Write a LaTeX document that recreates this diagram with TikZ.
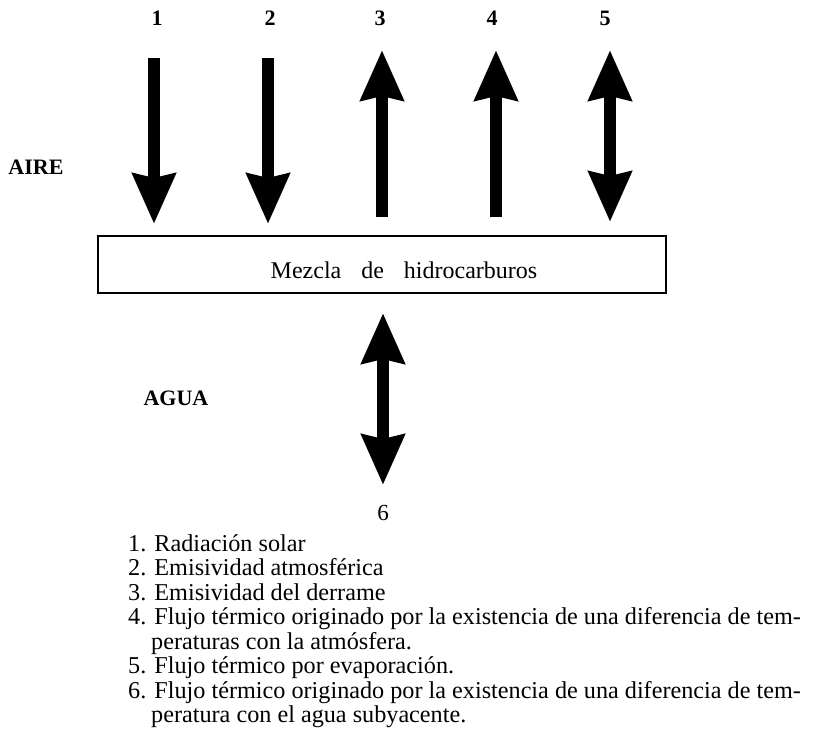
\documentclass[tikz,border=0pt]{standalone}
\usepackage{fontspec}
\setmainfont{Liberation Serif}
\usetikzlibrary{arrows.meta}
\begin{document}
\begin{tikzpicture}[x=1pt,y=-1pt,
  flux/.style={line width=12pt,-{Stealth[width=42pt,length=50pt,inset=4pt]}},
  dflux/.style={line width=12pt,{Stealth[width=42pt,length=50pt,inset=4pt]}-{Stealth[width=42pt,length=50pt,inset=4pt]}},
  num/.style={font=\fontsize{22}{24}\selectfont\bfseries,inner sep=0pt},
  zone/.style={font=\fontsize{22}{24}\selectfont\bfseries,inner sep=0pt},
  legend/.style={font=\fontsize{24.2}{26}\selectfont,inner sep=0pt,anchor=base west},
  layer/.style={draw,line width=2.5pt,inner sep=0pt,minimum width=568pt,minimum height=57pt}]
\useasboundingbox (0,0) rectangle (821,737);
% labels
\node[num] (n1) at (157,18) {1};
\node[num] (n2) at (270,18) {2};
\node[num] (n3) at (380,18) {3};
\node[num] (n4) at (492,18) {4};
\node[num] (n5) at (605,18) {5};
\node[zone] (aire) at (36,167) {AIRE};
\node[zone] (agua) at (176,398) {AGUA};
% box
\node[layer] (box) at (382,264.5) {};
\node[font=\fontsize{24}{26}\selectfont,inner sep=0pt,anchor=base] (boxtext) at (404,278) {Mezcla\hspace{20pt}de\hspace{20pt}hidrocarburos};
% arrow end points
\coordinate (a1s) at (154,58);  \coordinate (a1e) at (154,224);
\coordinate (a2s) at (268,58);  \coordinate (a2e) at (268,224);
\coordinate (a3s) at (382,217); \coordinate (a3e) at (382,50);
\coordinate (a4s) at (496,217); \coordinate (a4e) at (496,50);
\coordinate (a5s) at (610,50);  \coordinate (a5e) at (610,222);
\coordinate (a6s) at (383,313); \coordinate (a6e) at (383,485);
\draw[flux] (a1s) -- (a1e);
\draw[flux] (a2s) -- (a2e);
\draw[flux] (a3s) -- (a3e);
\draw[flux] (a4s) -- (a4e);
\draw[dflux] (a5s) -- (a5e);
\draw[dflux] (a6s) -- (a6e);
\node[font=\fontsize{23}{25}\selectfont,inner sep=0pt] (n6) at (383,513) {6};
% legend
\node[legend] (l1) at (128,551) {1. Radiación solar};
\node[legend] (l2) at (128,575.5) {2. Emisividad atmosférica};
\node[legend] (l3) at (128,600) {3. Emisividad del derrame};
\node[legend] (l4) at (128,624.5) {4. Flujo térmico originado por la existencia de una diferencia de tem-};
\node[legend] (l4b) at (151,649) {peraturas con la atmósfera.};
\node[legend] (l5) at (128,673.5) {5. Flujo térmico por evaporación.};
\node[legend] (l6) at (128,698) {6. Flujo térmico originado por la existencia de una diferencia de tem-};
\node[legend] (l6b) at (151,722.5) {peratura con el agua subyacente.};
\end{tikzpicture}
\end{document}
